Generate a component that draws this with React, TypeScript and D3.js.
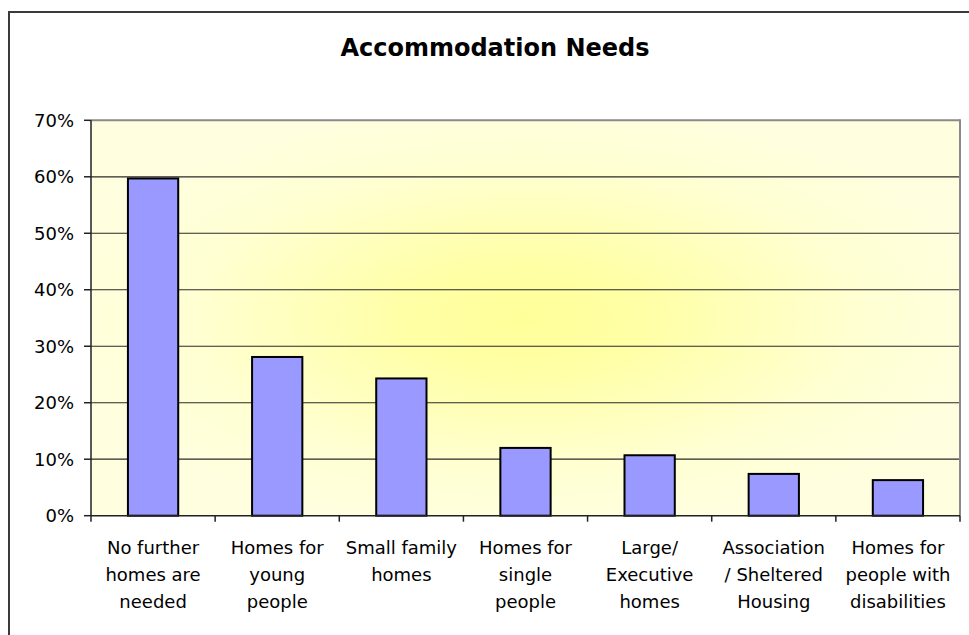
import React from "react";
import * as d3 from "d3";

const categories: string[][] = [
  ["No further", "homes are", "needed"],
  ["Homes for", "young", "people"],
  ["Small family", "homes"],
  ["Homes for", "single", "people"],
  ["Large/", "Executive", "homes"],
  ["Association", "/ Sheltered", "Housing"],
  ["Homes for", "people with", "disabilities"],
];
const values: number[] = [0.597, 0.281, 0.243, 0.12, 0.107, 0.074, 0.063];
const yTicks: number[] = [0, 0.1, 0.2, 0.3, 0.4, 0.5, 0.6, 0.7];
const title = "Accommodation Needs";

const W = 969;
const H = 635;
const plot = { left: 91, right: 960, top: 120.3, bottom: 515.7 };
const FONT = "'DejaVu Sans', Verdana, sans-serif";

export default function App() {
  const keys = categories.map((_, i) => String(i));
  const x = d3.scaleBand<string>().domain(keys).range([plot.left, plot.right]).padding(0);
  const y = d3.scaleLinear().domain([0, 0.7]).range([plot.bottom, plot.top]);
  const step = x.step();
  const barW = step * 0.405;
  const fmt = d3.format(".0%");

  return (
    <svg
      width={W}
      height={H}
      style={{ position: "absolute", left: 0, top: 0, background: "#fff" }}
      fontFamily={FONT}
    >
      <defs>
        <radialGradient id="bg" cx="0.5" cy="0.5" r="0.55">
          <stop offset="0" stopColor="#FFFF99" />
          <stop offset="0.25" stopColor="#FFFFA6" />
          <stop offset="0.7" stopColor="#FFFFD2" />
          <stop offset="1" stopColor="#FFFFE0" />
        </radialGradient>
      </defs>
      <rect x={9} y={12} width={W + 20} height={H + 20} fill="#fff" stroke="#3a3a3a" strokeWidth={2} />
      <text
        x={495}
        y={56}
        textAnchor="middle"
        fontSize={24}
        fontWeight="bold"
        fill="#000"
      >
        {title}
      </text>
      <rect
        x={plot.left}
        y={plot.top}
        width={plot.right - plot.left}
        height={plot.bottom - plot.top}
        fill="url(#bg)"
      />
      {yTicks.slice(1, -1).map((t) => (
        <line key={t} x1={plot.left} x2={plot.right} y1={y(t)} y2={y(t)} stroke="#2a2a2a" strokeWidth={1.2} />
      ))}
      <line x1={plot.left} x2={plot.right} y1={plot.top} y2={plot.top} stroke="#8a8a8a" strokeWidth={2} />
      <line x1={plot.right} x2={plot.right} y1={plot.top - 1} y2={plot.bottom} stroke="#8a8a8a" strokeWidth={2} />
      {values.map((v, i) => {
        const cx = (x(String(i)) as number) + step / 2;
        return (
          <rect
            key={i}
            x={cx - barW / 2}
            y={y(v)}
            width={barW}
            height={plot.bottom - y(v)}
            fill="#9999FF"
            stroke="#000"
            strokeWidth={2}
          />
        );
      })}
      <line x1={plot.left} x2={plot.left} y1={plot.top} y2={plot.bottom} stroke="#222" strokeWidth={1.5} />
      <line x1={plot.left} x2={plot.right} y1={plot.bottom} y2={plot.bottom} stroke="#222" strokeWidth={1.5} />
      {yTicks.map((t) => (
        <g key={t}>
          <line x1={plot.left - 7} x2={plot.left} y1={y(t)} y2={y(t)} stroke="#222" strokeWidth={1.5} />
          <text x={74} y={y(t)} dy="0.36em" textAnchor="end" fontSize={18} fill="#000">
            {fmt(t)}
          </text>
        </g>
      ))}
      {keys.concat(["end"]).map((k, i) => {
        const px = plot.left + i * step;
        return <line key={k} x1={px} x2={px} y1={plot.bottom} y2={plot.bottom + 6} stroke="#222" strokeWidth={1.5} />;
      })}
      {categories.map((lines, i) => {
        const cx = (x(String(i)) as number) + step / 2;
        return (
          <text key={i} x={cx} y={554} textAnchor="middle" fontSize={18} fill="#000">
            {lines.map((ln, j) => (
              <tspan key={j} x={cx} y={554 + j * 27}>
                {ln}
              </tspan>
            ))}
          </text>
        );
      })}
    </svg>
  );
}
